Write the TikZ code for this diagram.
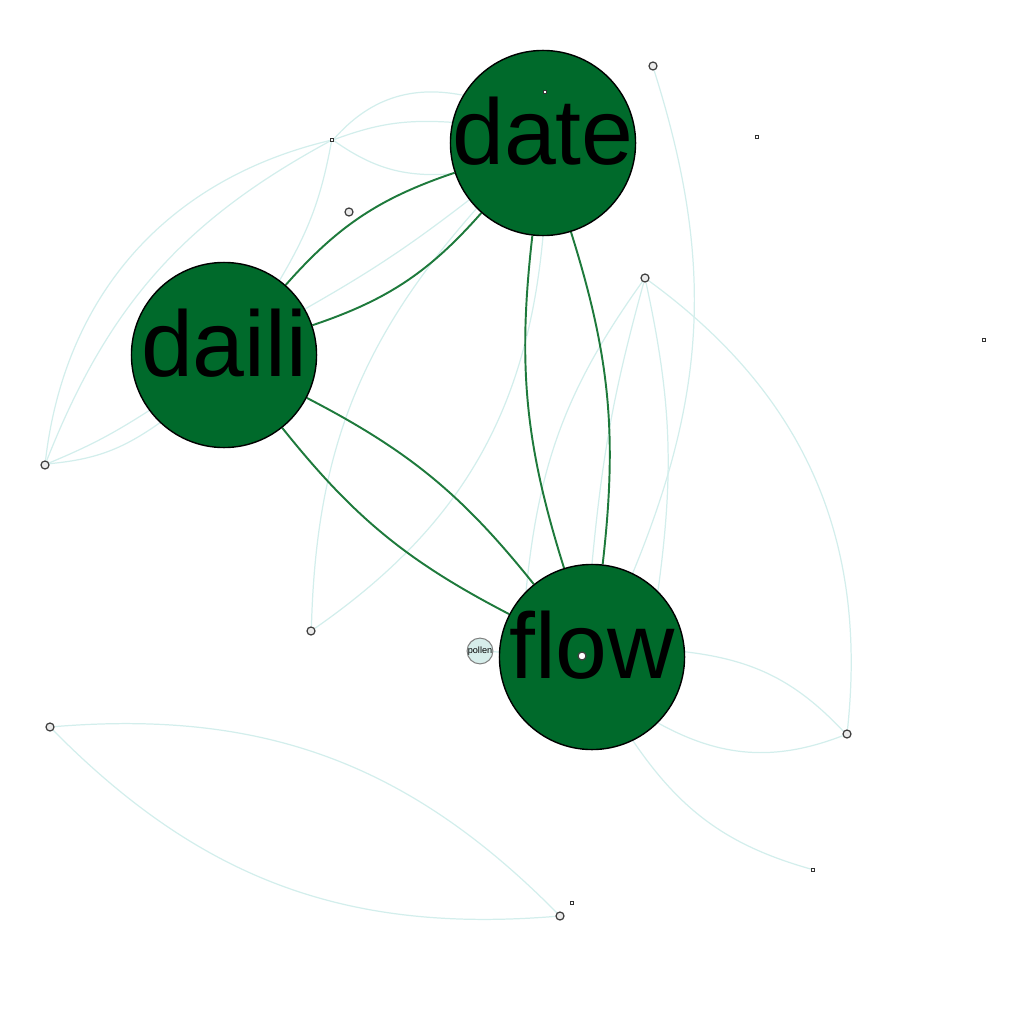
\documentclass[tikz,border=0pt]{standalone}
\usepackage{fontspec}
\setmainfont{Liberation Sans}
\usepackage{xcolor}
\definecolor{hubgreen}{HTML}{006A2B}
\definecolor{edgegreen}{HTML}{1E7A3C}
\definecolor{paleedge}{HTML}{D3EEEC}
\definecolor{pollenfill}{HTML}{D6EDEA}
\usepackage{tikz}
\usetikzlibrary{positioning,backgrounds}
\tikzset{
  hub/.style   ={circle, draw=black, line width=0.4pt, fill=hubgreen, minimum size=1.85cm,
                 inner sep=0pt, font=\fontsize{26.5}{26.5}\selectfont},
  leaf/.style  ={circle, draw=black!75, line width=0.35pt, fill=black!8, minimum size=0.08cm, inner sep=0pt},
  dot/.style   ={rectangle, draw=black!80, line width=0.3pt, fill=white, minimum size=0.03cm, inner sep=0pt},
  pollenbox/.style={circle, draw=black!50, line width=0.3pt, fill=pollenfill, minimum size=0.19cm,
                 inner sep=0pt, font=\fontsize{2.6}{3}\selectfont},
  strong/.style={draw=edgegreen, line width=0.55pt},
  weak/.style  ={draw=paleedge, line width=0.35pt},
}
\newcommand{\hubtext}[1]{\makebox[0pt]{\raisebox{-0.21cm}[0pt][0pt]{#1}}}
\begin{document}
\begin{tikzpicture}[x=0.01cm, y=-0.01cm]
  \useasboundingbox (0,0) rectangle (1024,1024);
  % hubs
  \node[hub] (date)  at (543,143) {\hubtext{date}};
  \node[hub] (daili) at (224,355) {\hubtext{daili}};
  \node[hub] (flow)  at (592,657) {\hubtext{flow}};
  % small nodes
  \node[dot]  (ntl)  at (332,140) {};
  \node[leaf] (nml)  at (349,212) {};
  \node[leaf] (ntop) at (653,66) {};
  \node[leaf] (nmid) at (645,278) {};
  \node[leaf] (nfl)  at (45,465) {};
  \node[leaf] (nlow) at (311,631) {};
  \node[leaf] (nrt)  at (847,734) {};
  \node[leaf] (nbl)  at (50,727) {};
  \node[dot]  (nbr)  at (813,870) {};
  \node[leaf] (nbot) at (560,916) {};
  \node[leaf, fill=white] (nin) at (582,656) {};
  \node[dot]  (din)  at (545,92) {};
  \node[dot]  (dtr)  at (757,137) {};
  \node[dot]  (dfr)  at (984,340) {};
  \node[dot]  (dbot) at (572,903) {};
  \node[pollenbox] (pollen) at (480,651) {pollen};
  \begin{scope}[on background layer]
  % pale edges
  \draw[weak] (ntl) to[bend right=20] (date);
  \draw[weak] (ntl) to[bend left=12] (date);
  \draw[weak] (ntl) to[bend left=30] (date);
  \draw[weak] (nfl) to[bend left=35] (ntl);
  \draw[weak] (nfl) to[bend left=20] (ntl);
  \draw[weak] (nfl) to[bend right=15] (daili);
  \draw[weak] (nfl) to[bend right=5] (daili);
  \draw[weak] (ntl) to[bend left=10] (daili);
  \draw[weak] (daili) to[bend right=4] (date);
  \draw[weak] (nlow) to[bend left=20] (date);
  \draw[weak] (nlow) to[bend right=25] (date.south);
  \draw[weak] (nmid) to[bend right=15] (flow.north west);
  \draw[weak] (nmid) to[bend right=5] (flow.north);
  \draw[weak] (nmid) to[bend left=30] (nrt);
  \draw[weak] (nmid) to[bend left=10] (flow.north east);
  \draw[weak] (ntop) to[bend left=20] (flow);
  \draw[weak] (nrt) to[bend right=20] (flow);
  \draw[weak] (nrt) to[bend left=25] (flow.south east);
  \draw[weak] (nbr) to[bend left=20] (flow);
  \draw[weak] (nbl) to[bend left=25] (nbot);
  \draw[weak] (nbl) to[bend right=25] (nbot);
  \draw[weak] (pollen) -- (flow);
  % strong edges
  \draw[strong] (daili) to[bend left=15] (date);
  \draw[strong] (daili) to[bend right=15] (date);
  \draw[strong] (daili) to[bend left=12] (flow);
  \draw[strong] (daili) to[bend right=12] (flow);
  \draw[strong] (date) to[bend right=12] (flow);
  \draw[strong] (date) to[bend left=12] (flow);
  \end{scope}
\end{tikzpicture}
\end{document}
